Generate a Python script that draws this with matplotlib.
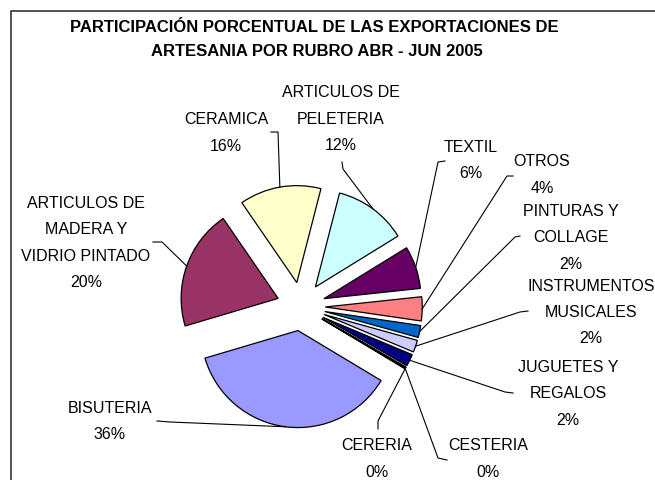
import numpy as np
import matplotlib.pyplot as plt

W, H = 655, 481

# data, clockwise from the first slice
categories = ['BISUTERIA', 'ARTICULOS DE\nMADERA Y\nVIDRIO PINTADO', 'CERAMICA',
              'ARTICULOS DE\nPELETERIA', 'TEXTIL', 'OTROS', 'PINTURAS Y\nCOLLAGE',
              'INSTRUMENTOS\nMUSICALES', 'JUGUETES Y\nREGALOS', 'CERERIA', 'CESTERIA']
shares = [36.8, 20.0, 13.6, 12.2, 7.1, 4.0, 2.0, 2.0, 2.0, 0.15, 0.15]
pct_labels = ['36%', '20%', '16%', '12%', '6%', '4%', '2%', '2%', '2%', '0%', '0%']
colors = ['#9999FF', '#993366', '#FFFFCC', '#CCFFFF', '#660066', '#FF8080',
          '#0066CC', '#CCCCFF', '#000080', '#FF00FF', '#FFFF00']

# label layout in pixels (text centre, then elbow of leader line)
label_xy = [(110, 421.5), (86, 243), (226, 133), (341, 119), (471, 160.5), (542, 175),
            (571, 238), (591, 312.5), (568, 394), (377, 459), (488, 459)]
elbows = [[(157, 422), (170, 423)], [(153, 243), (162, 243)], [(271, 133), (278, 133)],
          [(342, 163), (343, 170)], [(445, 162), (438, 163)], [(513, 177), (507, 177)],
          [(520, 237), (515, 238)], [(528, 312), (520, 313)], [(513, 394), (505, 393)],
          [(378, 430), (378, 422)], [(447, 461), (438, 459)]]

R = 97


def px(x, y):
    return x, H - y


fig = plt.figure(figsize=(W / 100, H / 100), dpi=100)
ax = fig.add_axes([0, 0, 1, 1])

wedges, _ = ax.pie(shares, colors=colors, startangle=90 - 121, counterclock=False,
                   explode=[0.25 * R] * len(shares), radius=R, center=px(301, 307.5),
                   wedgeprops=dict(edgecolor='black', linewidth=0.9), frame=True)
ax.set_xlim(0, W)
ax.set_ylim(0, H)
ax.axis('off')

# chart frame (only left/top visible)
ax.plot([11, 11, W], [0, H - 12, H - 12], color='#333333', lw=1.2)

for w, name, pct, (tx, ty), elb in zip(wedges, categories, pct_labels, label_xy, elbows):
    mid = np.deg2rad((w.theta1 + w.theta2) / 2)
    ax_, ay_ = w.center[0] + w.r * np.cos(mid), w.center[1] + w.r * np.sin(mid)
    pts = [px(*p) for p in elb] + [(ax_, ay_)]
    ax.plot([p[0] for p in pts], [p[1] for p in pts], color='black', lw=0.8)
    ax.text(*px(tx, ty), name + '\n' + pct, ha='center', va='center', fontsize=11.5,
            linespacing=1.95, family=['Liberation Sans', 'DejaVu Sans'])

title_font = dict(fontsize=12, fontweight='bold', ha='center', va='center',
                  family=['Liberation Sans', 'DejaVu Sans'])
ax.text(*px(314, 28), 'PARTICIPACIÓN PORCENTUAL DE LAS EXPORTACIONES DE', **title_font)
ax.text(*px(317, 51), 'ARTESANIA POR RUBRO ABR - JUN 2005', **title_font)

fig.savefig('out.png', dpi=100)
